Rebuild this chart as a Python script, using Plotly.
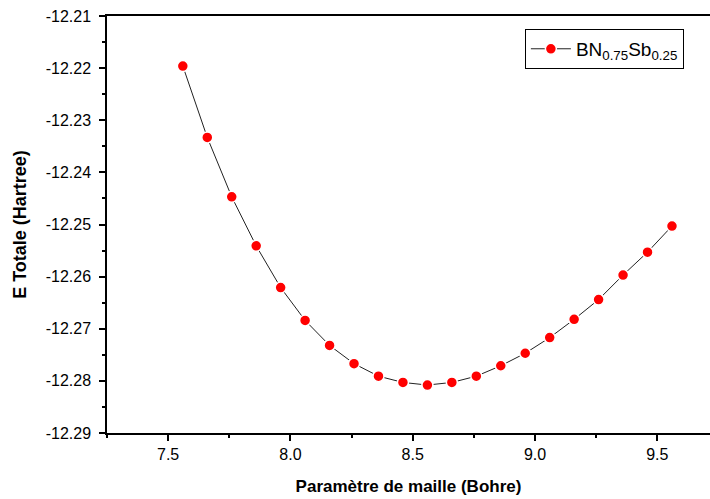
import plotly.graph_objects as go

# Lattice parameter (Bohr) and total energy (Hartree)
lattice = [7.56, 7.66, 7.76, 7.86, 7.96, 8.06, 8.16, 8.26, 8.36, 8.46, 8.56,
           8.66, 8.76, 8.86, 8.96, 9.06, 9.16, 9.26, 9.36, 9.46, 9.56]
energy = [-12.2196, -12.2333, -12.2447, -12.2541, -12.2621, -12.2684, -12.2732,
          -12.2767, -12.2791, -12.2803, -12.2808, -12.2803, -12.2791, -12.2771,
          -12.2747, -12.2717, -12.2682, -12.2644, -12.2597, -12.2553, -12.2503]

y_tickvals = [-12.29, -12.28, -12.27, -12.26, -12.25, -12.24, -12.23, -12.22, -12.21]
y_ticktext = ["-12.29", "-12.28", "-12.27", "-12.26", "-12.25", "-12.24", "-12.23", "-12.22", "-12.21"]
x_tickvals = [7.5, 8.0, 8.5, 9.0, 9.5]
x_ticktext = ["7.5", "8.0", "8.5", "9.0", "9.5"]

FONT = "Liberation Sans, Arial, sans-serif"

fig = go.Figure()
fig.add_trace(go.Scatter(
    x=lattice, y=energy, mode="lines+markers",
    name="BN<sub>0.75</sub>Sb<sub>0.25</sub>",
    line=dict(color="#222222", width=1),
    marker=dict(color="#ff0000", size=11, line=dict(color="white", width=1.5)),
))

fig.update_layout(
    width=710, height=499,
    margin=dict(l=107, r=0, t=16, b=66),
    paper_bgcolor="white", plot_bgcolor="white",
    font=dict(family=FONT, color="black", size=16),
    showlegend=True,
    legend=dict(
        x=0.693, y=0.969, xanchor="left", yanchor="top",
        bordercolor="black", borderwidth=1, bgcolor="white",
        font=dict(size=19, family=FONT), itemwidth=40,
    ),
    xaxis=dict(
        range=[7.25, 7.25 + 603.3 / 244.7],
        tickmode="array", tickvals=x_tickvals, ticktext=x_ticktext,
        ticks="outside", ticklen=6, tickwidth=1.5, tickcolor="black",
        minor=dict(tickmode="linear", tick0=7.25, dtick=0.25, ticks="outside",
                   ticklen=3, tickwidth=1.5, tickcolor="black", showgrid=False),
        showline=True, linecolor="black", linewidth=1.5, mirror=True,
        showgrid=False, zeroline=False,
        tickfont=dict(size=16),
        title=dict(text="<b>Paramètre de maille (Bohre)</b>", font=dict(size=17), standoff=18),
    ),
    yaxis=dict(
        range=[-12.29, -12.21],
        tickmode="array", tickvals=y_tickvals, ticktext=y_ticktext,
        ticks="outside", ticklen=6, tickwidth=1.5, tickcolor="black",
        minor=dict(tickmode="linear", tick0=-12.29, dtick=0.005, ticks="outside",
                   ticklen=3, tickwidth=1.5, tickcolor="black", showgrid=False),
        showline=True, linecolor="black", linewidth=1.5, mirror=False,
        showgrid=False, zeroline=False,
        tickfont=dict(size=16), ticklabelstandoff=5,
        title=dict(text="<b>E Totale (Hartree)</b>", font=dict(size=18), standoff=14),
    ),
)

fig.write_html("out.html")
